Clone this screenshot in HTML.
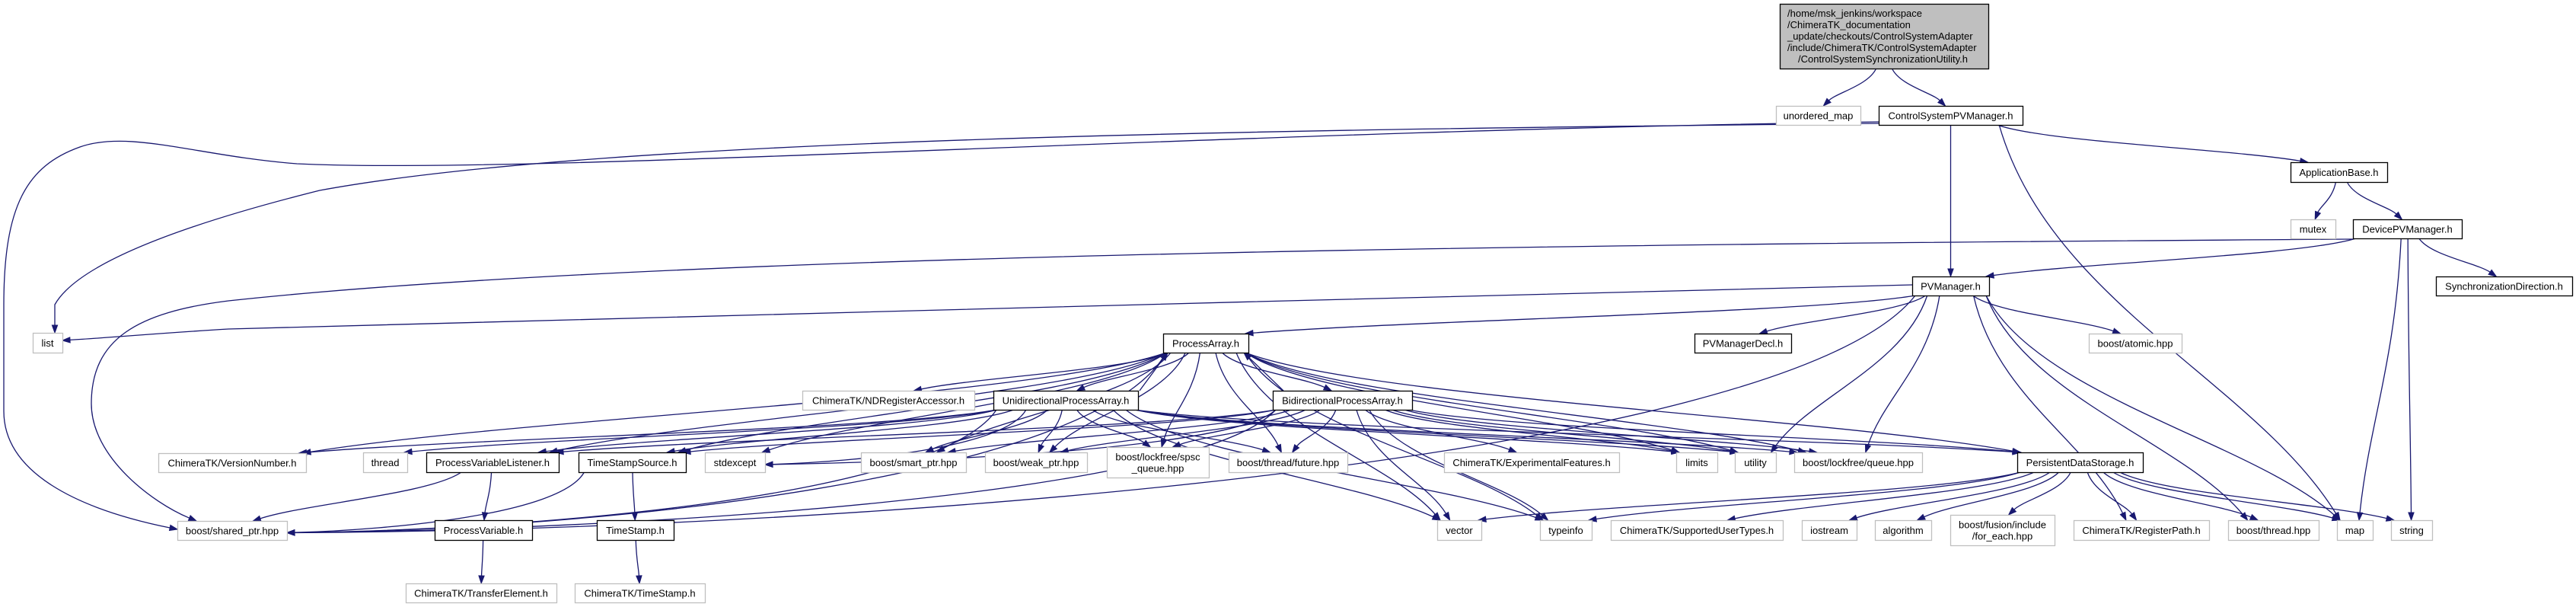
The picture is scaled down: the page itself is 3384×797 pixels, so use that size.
<!DOCTYPE html>
<html><head><meta charset="utf-8"><style>
html,body{margin:0;padding:0;background:#fff;}
svg{display:block;}
text{font-family:"Liberation Sans",Arial,sans-serif;font-size:13px;fill:#000;}
</style></head><body>
<svg id="g" width="3384" height="797" viewBox="0 0 3384 797" xmlns="http://www.w3.org/2000/svg">
<g id="edges" fill="none" stroke="#191970" stroke-width="1.3"></g>
<g id="arrows" fill="#191970" stroke="#191970" stroke-width="1"></g>
<g id="nodes"></g>
</svg>
<script>
var N={
root:[2338,5,2612,90,null,'root'],
umap:[2333,139,2444,164,['unordered_map'],'ext'],
cspvm:[2468,139,2657,164,['ControlSystemPVManager.h'],'doc'],
appbase:[3009,213,3136,239,['ApplicationBase.h'],'doc'],
mutex:[3009,288,3068,313,['mutex'],'ext'],
dpvm:[3091,288,3234,313,['DevicePVManager.h'],'doc'],
pvm:[2512,363,2613,388,['PVManager.h'],'doc'],
syncdir:[3200,363,3379,388,['SynchronizationDirection.h'],'doc'],
list:[43,437,82,463,['list'],'ext'],
pvmdecl:[2226,438,2353,463,['PVManagerDecl.h'],'doc'],
atomic:[2744,438,2866,463,['boost/atomic.hpp'],'ext'],
pa:[1528,438,1640,463,['ProcessArray.h'],'doc'],
ndra:[1054,513,1280,538,['ChimeraTK/NDRegisterAccessor.h'],'ext'],
uni:[1305,513,1495,538,['UnidirectionalProcessArray.h'],'doc'],
bi:[1672,513,1855,538,['BidirectionalProcessArray.h'],'doc'],
verno:[208,595,402,620,['ChimeraTK/VersionNumber.h'],'ext'],
thread:[477,594,535,620,['thread'],'ext'],
pvl:[560,594,734,620,['ProcessVariableListener.h'],'doc'],
tss:[760,594,901,620,['TimeStampSource.h'],'doc'],
stdexcept:[926,594,1005,620,['stdexcept'],'ext'],
smart:[1131,594,1269,620,['boost/smart_ptr.hpp'],'ext'],
weak:[1294,594,1428,620,['boost/weak_ptr.hpp'],'ext'],
spsc:[1454,587,1588,627,['boost/lockfree/spsc','_queue.hpp'],'ext'],
future:[1614,594,1770,620,['boost/thread/future.hpp'],'ext'],
exp:[1897,594,2127,620,['ChimeraTK/ExperimentalFeatures.h'],'ext'],
limits:[2202,594,2256,620,['limits'],'ext'],
utility:[2279,594,2333,620,['utility'],'ext'],
lfq:[2357,594,2525,620,['boost/lockfree/queue.hpp'],'ext'],
pds:[2650,594,2815,620,['PersistentDataStorage.h'],'doc'],
shared:[233,684,377,709,['boost/shared_ptr.hpp'],'ext'],
pv:[571,683,699,709,['ProcessVariable.h'],'doc'],
ts:[784,683,885,709,['TimeStamp.h'],'doc'],
vector:[1888,683,1946,709,['vector'],'ext'],
typeinfo:[2023,683,2091,709,['typeinfo'],'ext'],
sut:[2116,683,2342,709,['ChimeraTK/SupportedUserTypes.h'],'ext'],
iostream:[2367,683,2439,709,['iostream'],'ext'],
algorithm:[2463,683,2537,709,['algorithm'],'ext'],
fusion:[2562,676,2699,716,['boost/fusion/include','/for_each.hpp'],'ext'],
regpath:[2724,683,2902,709,['ChimeraTK/RegisterPath.h'],'ext'],
bthread:[2927,683,3046,709,['boost/thread.hpp'],'ext'],
map:[3070,683,3117,709,['map'],'ext'],
string:[3141,683,3195,709,['string'],'ext'],
te:[533,766,731,791,['ChimeraTK/TransferElement.h'],'ext'],
cts:[755,766,926,791,['ChimeraTK/TimeStamp.h'],'ext']
};
var E=[
['root','umap'],['root','cspvm'],
['cspvm','appbase'],['cspvm','pvm'],['cspvm','map'],
['appbase','mutex'],['appbase','dpvm'],
['dpvm','pvm'],['dpvm','syncdir'],['dpvm','map'],['dpvm','string'],
['pvm','pa'],['pvm','pvmdecl'],['pvm','atomic'],['pvm','utility'],['pvm','lfq'],['pvm','regpath'],['pvm','bthread'],['pvm','map'],['pvm','shared'],
['pa','ndra'],['pa','uni'],['pa','bi'],['pa','smart'],['pa','weak'],['pa','spsc'],['pa','future'],['pa','shared'],['pa','verno'],['pa','pvl'],['pa','tss'],['pa','stdexcept'],['pa','limits'],['pa','utility'],['pa','lfq'],['pa','pds'],['pa','typeinfo'],['pa','vector'],
['uni','pa'],['uni','smart'],['uni','weak'],['uni','spsc'],['uni','future'],['uni','verno'],['uni','thread'],['uni','pvl'],['uni','tss'],['uni','stdexcept'],['uni','shared'],['uni','limits'],['uni','utility'],['uni','lfq'],['uni','pds'],['uni','typeinfo'],['uni','vector'],
['bi','pa'],['bi','smart'],['bi','weak'],['bi','spsc'],['bi','future'],['bi','exp'],['bi','vector'],['bi','typeinfo'],['bi','shared'],['bi','pvl'],['bi','tss'],['bi','stdexcept'],['bi','limits'],['bi','utility'],['bi','lfq'],['bi','pds'],
['pvl','shared'],['pvl','pv'],['tss','shared'],['tss','ts'],['pv','te'],['ts','cts'],
['pds','sut'],['pds','iostream'],['pds','algorithm'],['pds','fusion'],['pds','regpath'],['pds','bthread'],['pds','map'],['pds','string'],['pds','vector'],['pds','typeinfo']
];
var ns='http://www.w3.org/2000/svg';
function el(p,n,a){var e=document.createElementNS(ns,n);for(var k in a)e.setAttribute(k,a[k]);p.appendChild(e);return e;}
var ge=document.getElementById('edges'),ga=document.getElementById('arrows'),gn=document.getElementById('nodes');
function cl(v,a,b){return Math.max(a,Math.min(b,v));}
function arrow(cx,cy,tx,ty){var dx=tx-cx,dy=ty-cy,l=Math.sqrt(dx*dx+dy*dy)||1;dx/=l;dy/=l;
 var bx=tx-dx*10,by=ty-dy*10,px=-dy*3.6,py=dx*3.6;
 el(ga,'polygon',{points:tx+','+ty+' '+(bx+px)+','+(by+py)+' '+(bx-px)+','+(by-py)});return [bx,by];}
function raw(d,cx,cy,tx,ty){var b=arrow(cx,cy,tx,ty);el(ge,'path',{d:d+' '+b[0]+','+b[1]});}
E.forEach(function(e){
 var S=N[e[0]],T=N[e[1]];
 var scx=(S[0]+S[2])/2,tcx=(T[0]+T[2])/2,scy=(S[1]+S[3])/2,tcy=(T[1]+T[3])/2;
 var sx,sy,tx,ty,c1x,c1y,c2x,c2y;
 if(T[1]<S[1]){
  sx=scx+cl((tcx-scx)*0.5,-(S[2]-S[0])/2+6,(S[2]-S[0])/2-6)+8;sy=S[1];
  tx=tcx+cl((scx-tcx)*0.5,-(T[2]-T[0])/2+6,(T[2]-T[0])/2-6);ty=T[3];
  c1x=sx+(tx-sx)*0.3;c1y=sy+(ty-sy)*0.3;c2x=tx-(tx-sx)*0.3;c2y=ty-(ty-sy)*0.3;
 } else {
  var hw=(S[2]-S[0])/2-4;
  sx=scx+cl((tcx-scx)*0.12,-hw,hw);sy=S[3];
  var dxa=Math.abs(tcx-scx),dya=tcy-scy;
  if((e[1]=='shared'||e[1]=='stdexcept') && dxa>5*dya && dxa>400){
   ty=tcy+3; tx=(tcx<scx)?T[2]:T[0];
   c1x=sx+(tx-sx)*0.08;c1y=sy+(ty-sy)*0.7;
   c2x=tx+(sx-tx)*0.35;c2y=ty-4;
  } else {
   var thw=(T[2]-T[0])/2-4;
   tx=tcx+cl((scx-tcx)*0.08,-thw,thw);ty=T[1];
   c1x=sx+(tx-sx)*0.15;c1y=sy+(ty-sy)*0.45;
   c2x=tx-(tx-sx)*0.25;c2y=ty-(ty-sy)*0.35;
  }
 }
 var b=arrow(c2x,c2y,tx,ty);
 el(ge,'path',{d:'M'+sx+','+sy+' C'+c1x+','+c1y+' '+c2x+','+c2y+' '+b[0]+','+b[1]});
});
raw('M2468,160 C1600,172 700,230 390,215 C260,205 170,170 105,193 C35,218 5,270 5,400 L5,540 C5,620 100,668',100,668,233,695);
raw('M2470,162 C1700,170 800,180 420,250 C220,300 100,350 72,400 C72,410 72,420',72,420,72,437);
raw('M3091,314 C2200,320 900,330 300,395 C180,410 120,445 120,530 C120,600 200,660',200,660,258,684);
raw('M2512,374 C1800,395 500,420 300,432 C200,438 150,443',150,443,82,447);
Object.keys(N).forEach(function(k){var n=N[k];
 var st=n[5]=='root'?{fill:'#bfbfbf',stroke:'#000'}:n[5]=='doc'?{fill:'#fff',stroke:'#000'}:{fill:'#fff',stroke:'#bfbfbf'};
 el(gn,'rect',{x:n[0]+0.5,y:n[1]+0.5,width:n[2]-n[0],height:n[3]-n[1],fill:st.fill,stroke:st.stroke,'stroke-width':1.3});
 if(k=='root'){
  var L=['/home/msk_jenkins/workspace','/ChimeraTK_documentation','_update/checkouts/ControlSystemAdapter','/include/ChimeraTK/ControlSystemAdapter','/ControlSystemSynchronizationUtility.h'];
  L.forEach(function(s,i){var t=el(gn,'text',{x:i==4?2362:2348,y:22+i*15});t.textContent=s;});
 } else {
  var cx=(n[0]+n[2])/2,cy=(n[1]+n[3])/2,m=n[4].length;
  n[4].forEach(function(s,i){var t=el(gn,'text',{x:cx,y:cy+5+(i-(m-1)/2)*15,'text-anchor':'middle'});t.textContent=s;});
 }
});
</script>
</body></html>
